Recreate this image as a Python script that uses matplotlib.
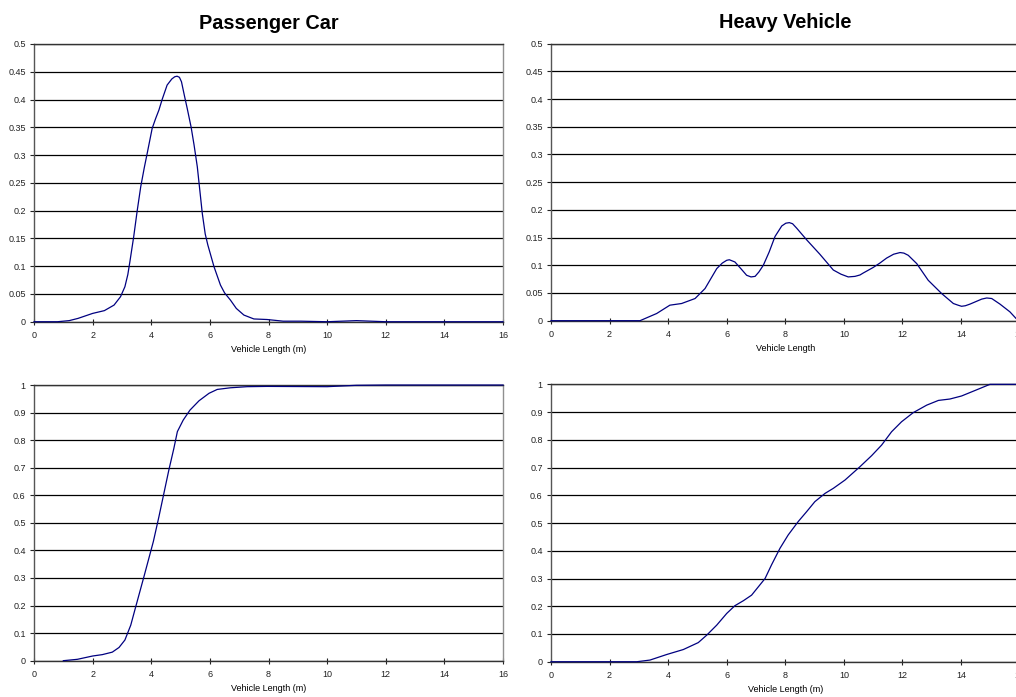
import matplotlib.pyplot as plt

plt.rcParams['font.family'] = ['Liberation Sans', 'DejaVu Sans']

# passenger car length distribution
car_x = [0, 0.8, 1.2, 1.5, 2.0, 2.4, 2.73, 2.95, 3.1, 3.2, 3.27, 3.4, 3.52, 3.64, 3.76,
         3.86, 4.03, 4.15, 4.26, 4.37, 4.54, 4.7, 4.8, 4.88, 4.96, 5.03, 5.13, 5.23,
         5.36, 5.46, 5.57, 5.74, 5.84, 5.93, 6.14, 6.36, 6.5, 6.7, 6.9, 7.16, 7.5,
         7.95, 8.5, 9.1, 10.0, 10.5, 11.0, 11.5, 12.0, 16.0]
car_pdf = [0, 0, 0.002, 0.006, 0.015, 0.02, 0.03, 0.045, 0.063, 0.085, 0.108, 0.153,
           0.2, 0.243, 0.277, 0.303, 0.348, 0.366, 0.381, 0.4, 0.426, 0.437, 0.441,
           0.442, 0.44, 0.432, 0.407, 0.383, 0.35, 0.318, 0.279, 0.195, 0.158, 0.138,
           0.099, 0.066, 0.052, 0.039, 0.024, 0.012, 0.005, 0.004, 0.001, 0.001, 0,
           0.001, 0.002, 0.001, 0, 0]

car_cx = [1.0, 1.48, 2.0, 2.33, 2.67, 2.9, 3.1, 3.3, 3.47, 3.75, 4.07, 4.26, 4.43, 4.6,
          4.77, 4.89, 5.09, 5.32, 5.63, 5.97, 6.25, 6.7, 7.27, 7.95, 10.0, 11.0, 12.0, 16.0]
car_cdf = [0, 0.005, 0.017, 0.022, 0.031, 0.048, 0.075, 0.129, 0.196, 0.305, 0.432,
           0.522, 0.607, 0.692, 0.77, 0.831, 0.873, 0.909, 0.943, 0.97, 0.984, 0.99,
           0.994, 0.995, 0.994, 0.999, 1.0, 1.0]

# heavy vehicle length distribution
hv_x = [0, 3.04, 3.61, 4.06, 4.46, 4.92, 5.26, 5.66, 5.85, 6.0, 6.09, 6.28, 6.5, 6.68,
        6.83, 6.97, 7.1, 7.25, 7.45, 7.65, 7.88, 8.02, 8.14, 8.25, 8.39, 8.73, 9.18,
        9.64, 9.9, 10.15, 10.38, 10.55, 10.66, 11.0, 11.23, 11.46, 11.7, 11.92, 12.05,
        12.2, 12.49, 12.88, 13.34, 13.74, 13.9, 14.02, 14.15, 14.31, 14.71, 14.88,
        15.05, 15.33, 15.67, 15.88, 16.0]
hv_pdf = [0, 0, 0.013, 0.028, 0.031, 0.04, 0.058, 0.094, 0.104, 0.109, 0.11, 0.106,
          0.093, 0.082, 0.079, 0.08, 0.088, 0.1, 0.124, 0.152, 0.171, 0.176, 0.177,
          0.175, 0.167, 0.146, 0.12, 0.0915, 0.084, 0.079, 0.08, 0.0825, 0.086, 0.096,
          0.104, 0.113, 0.12, 0.123, 0.122, 0.118, 0.103, 0.073, 0.049, 0.031, 0.028,
          0.026, 0.027, 0.03, 0.039, 0.041, 0.04, 0.03, 0.016, 0.004, 0]

hv_cx = [0, 2.93, 3.38, 3.95, 4.52, 5.03, 5.32, 5.66, 6.0, 6.28, 6.57, 6.85, 7.08, 7.31,
         7.53, 7.82, 8.1, 8.44, 8.73, 9.01, 9.36, 9.64, 10.04, 10.55, 10.95, 11.29,
         11.63, 11.97, 12.37, 12.83, 13.23, 13.62, 14.02, 14.53, 14.99, 16.0]
hv_cdf = [0, 0, 0.006, 0.026, 0.044, 0.069, 0.096, 0.132, 0.174, 0.202, 0.22, 0.24,
          0.27, 0.3, 0.349, 0.409, 0.457, 0.505, 0.541, 0.577, 0.607, 0.625, 0.655,
          0.703, 0.743, 0.781, 0.829, 0.865, 0.898, 0.925, 0.942, 0.947, 0.958, 0.98,
          1.0, 1.0]

x_ticks = [0, 2, 4, 6, 8, 10, 12, 14, 16]
pdf_ticks = [0, 0.05, 0.1, 0.15, 0.2, 0.25, 0.3, 0.35, 0.4, 0.45, 0.5]
pdf_labels = ['0', '0.05', '0.1', '0.15', '0.2', '0.25', '0.3', '0.35', '0.4', '0.45', '0.5']
cdf_ticks = [0, 0.1, 0.2, 0.3, 0.4, 0.5, 0.6, 0.7, 0.8, 0.9, 1.0]
cdf_labels = ['0', '0.1', '0.2', '0.3', '0.4', '0.5', '0.6', '0.7', '0.8', '0.9', '1']

fig = plt.figure(figsize=(10.16, 6.97), dpi=100)

ax1 = fig.add_axes([0.0335, 0.5384, 0.4616, 0.3985])
ax2 = fig.add_axes([0.5423, 0.5399, 0.4612, 0.3974])
ax3 = fig.add_axes([0.0335, 0.0521, 0.4616, 0.3955])
ax4 = fig.add_axes([0.5423, 0.0506, 0.4612, 0.3980])


def style(ax, yt, yl, xlabel):
    ax.set_xlim(0, 16)
    ax.set_ylim(yt[0], yt[-1])
    ax.set_xticks(x_ticks)
    ax.set_yticks(yt)
    ax.set_yticklabels(yl)
    ax.grid(axis='y', color='black', linewidth=0.9)
    ax.set_axisbelow(True)
    ax.tick_params(axis='x', direction='inout', length=4, width=0.8, pad=5,
                   labelsize=6.5, colors='#222222')
    ax.tick_params(axis='y', direction='out', length=3, width=0.8, pad=3,
                   labelsize=6.5, colors='#222222')
    ax.spines['left'].set_color('#555555')
    ax.spines['right'].set_color('#909090')
    ax.spines['top'].set_color('#333333')
    ax.spines['bottom'].set_color('#333333')
    for s in ax.spines.values():
        s.set_linewidth(1.0)
    ax.set_xlabel(xlabel, fontsize=6.5, labelpad=3)


line_kw = dict(color='#000080', linewidth=0.9, zorder=3, clip_on=False)
title_kw = dict(fontsize=14.3, fontweight='bold', pad=11)

ax1.plot(car_x, car_pdf, **line_kw)
style(ax1, pdf_ticks, pdf_labels, 'Vehicle Length (m)')
ax1.set_title('Passenger Car', **title_kw)

ax2.plot(hv_x, hv_pdf, **line_kw)
style(ax2, pdf_ticks, pdf_labels, 'Vehicle Length')
ax2.set_title('Heavy Vehicle', **title_kw)

ax3.plot(car_cx, car_cdf, **line_kw)
style(ax3, cdf_ticks, cdf_labels, 'Vehicle Length (m)')

ax4.plot(hv_cx, hv_cdf, **line_kw)
style(ax4, cdf_ticks, cdf_labels, 'Vehicle Length (m)')

plt.savefig('out.png', dpi=100)
